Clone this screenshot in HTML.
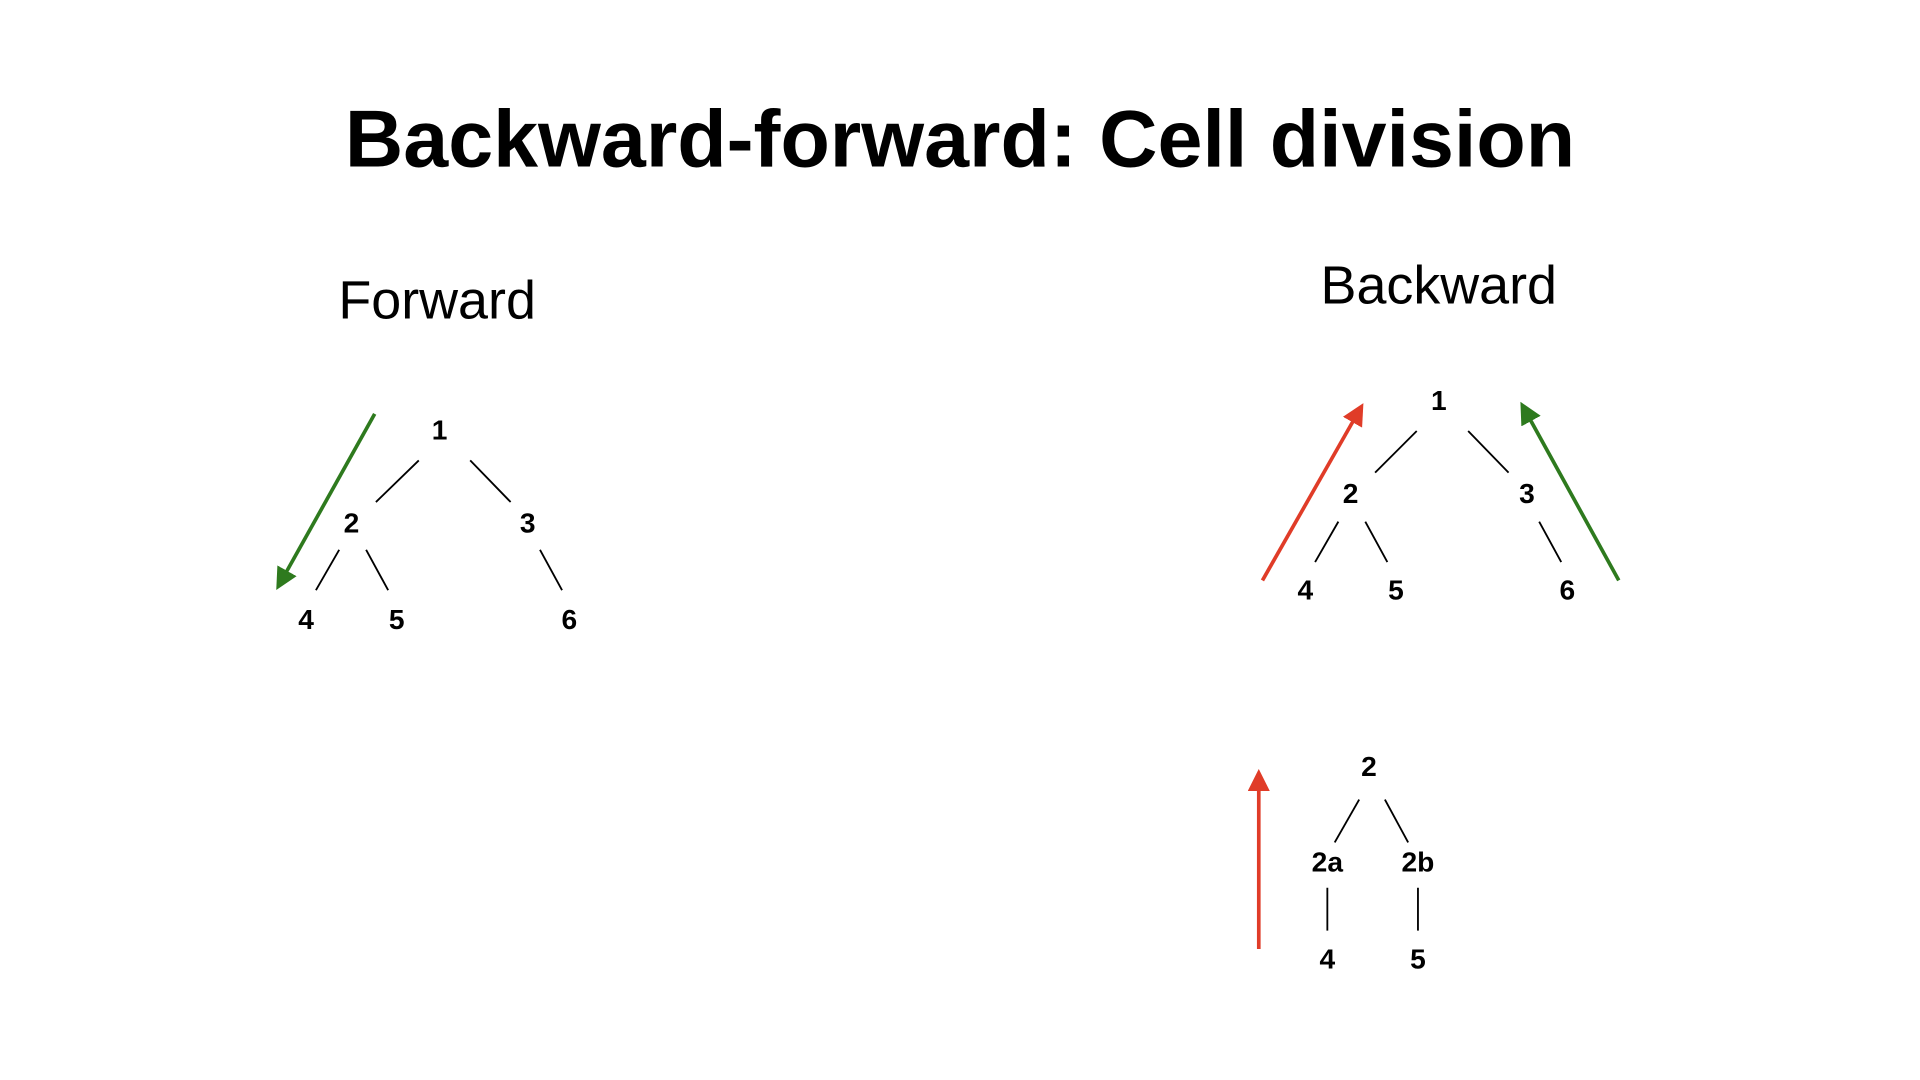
<!DOCTYPE html>
<html><head><meta charset="utf-8"><style>
html,body{margin:0;padding:0;background:#fff;width:1920px;height:1080px;overflow:hidden}
svg{display:block}
text{font-family:"Liberation Sans",Arial,sans-serif;fill:#000}
.n{font-weight:bold;font-size:23px;text-anchor:middle;dominant-baseline:central}
line.e{stroke:#000;stroke-width:1.5}
</style></head><body>
<svg width="1920" height="1080" viewBox="0 0 1568 882">
<defs>
<marker id="ag" markerWidth="6" markerHeight="6" refX="3" refY="3" orient="auto" markerUnits="strokeWidth"><path d="M0,0 L6,3 L0,6 z" fill="#2e7a1e"/></marker>
<marker id="ar" markerWidth="6" markerHeight="6" refX="3" refY="3" orient="auto" markerUnits="strokeWidth"><path d="M0,0 L6,3 L0,6 z" fill="#e03c28"/></marker>
</defs>
<text x="784" y="136" font-size="66" font-weight="bold" text-anchor="middle">Backward-forward: Cell division</text>
<text x="357" y="260" font-size="44" text-anchor="middle">Forward</text>
<text x="1175" y="248" font-size="44" text-anchor="middle">Backward</text>

<g>
<text class="n" x="359" y="351">1</text><text class="n" x="287" y="427">2</text><text class="n" x="431" y="427">3</text>
<text class="n" x="250" y="506">4</text><text class="n" x="324" y="506">5</text><text class="n" x="465" y="506">6</text>
<line class="e" x1="342" y1="376" x2="307" y2="410"/><line class="e" x1="384" y1="376" x2="417" y2="410"/>
<line class="e" x1="277" y1="449" x2="258" y2="482"/><line class="e" x1="299" y1="449" x2="317" y2="482"/>
<line class="e" x1="441" y1="449" x2="459" y2="482"/>
</g>
<line x1="306" y1="338" x2="230" y2="474" stroke="#2e7a1e" stroke-width="3" marker-end="url(#ag)"/>

<g>
<text class="n" x="1175" y="327">1</text><text class="n" x="1103" y="403">2</text><text class="n" x="1247" y="403">3</text>
<text class="n" x="1066" y="482">4</text><text class="n" x="1140" y="482">5</text><text class="n" x="1280" y="482">6</text>
<line class="e" x1="1157" y1="352" x2="1123" y2="386"/><line class="e" x1="1199" y1="352" x2="1232" y2="386"/>
<line class="e" x1="1093" y1="426" x2="1074" y2="459"/><line class="e" x1="1115" y1="426" x2="1133" y2="459"/>
<line class="e" x1="1257" y1="426" x2="1275" y2="459"/>
</g>
<line x1="1031" y1="474" x2="1109" y2="337" stroke="#e03c28" stroke-width="3" marker-end="url(#ar)"/>
<line x1="1322" y1="474" x2="1246" y2="336" stroke="#2e7a1e" stroke-width="3" marker-end="url(#ag)"/>

<g>
<text class="n" x="1118" y="626">2</text><text class="n" x="1084" y="704">2a</text><text class="n" x="1158" y="704">2b</text>
<text class="n" x="1084" y="783">4</text><text class="n" x="1158" y="783">5</text>
<line class="e" x1="1110" y1="653" x2="1090" y2="688"/><line class="e" x1="1131" y1="653" x2="1150" y2="688"/>
<line class="e" x1="1084" y1="725" x2="1084" y2="760"/><line class="e" x1="1158" y1="725" x2="1158" y2="760"/>
</g>
<line x1="1028" y1="775" x2="1028" y2="637" stroke="#e03c28" stroke-width="3" marker-end="url(#ar)"/>
</svg>
</body></html>
